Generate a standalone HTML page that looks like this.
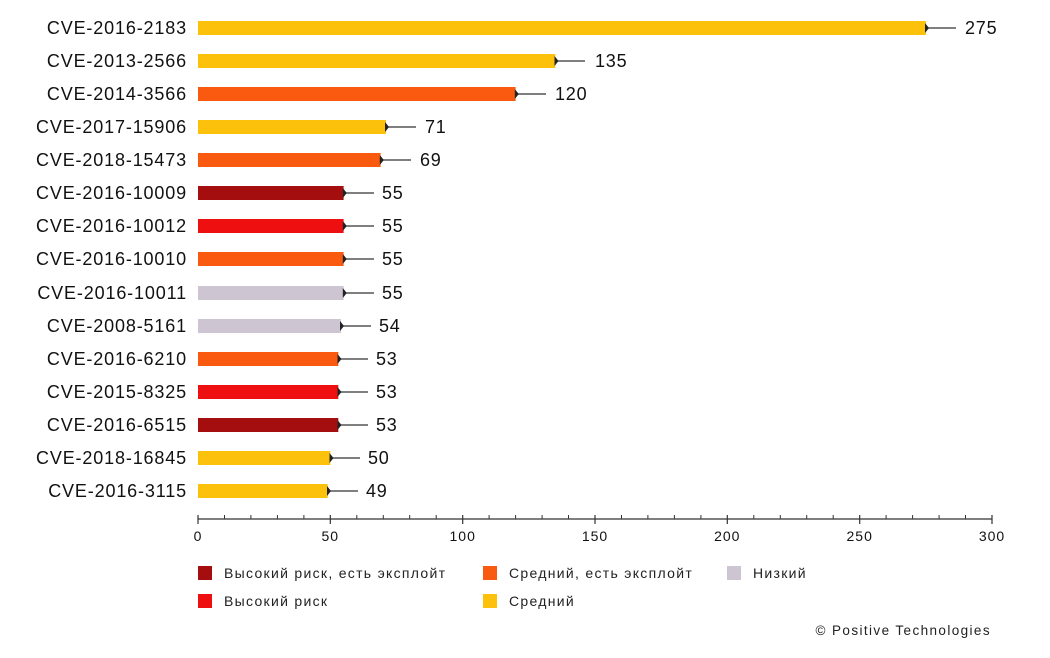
<!DOCTYPE html>
<html><head><meta charset="utf-8"><style>
body{margin:0;background:#fff;}
text{font-family:"Liberation Sans","DejaVu Sans",sans-serif;}
</style></head><body>
<svg width="1050" height="653" xmlns="http://www.w3.org/2000/svg">
<g stroke="#333" stroke-width="1.2">
<line x1="925.8" y1="28" x2="956" y2="28"/>
<line x1="555.3" y1="61" x2="585" y2="61"/>
<line x1="515.6" y1="94" x2="546" y2="94"/>
<line x1="385.9" y1="127" x2="416" y2="127"/>
<line x1="380.6" y1="160" x2="411" y2="160"/>
<line x1="343.6" y1="193" x2="374" y2="193"/>
<line x1="343.6" y1="226" x2="374" y2="226"/>
<line x1="343.6" y1="259" x2="374" y2="259"/>
<line x1="343.6" y1="293" x2="374" y2="293"/>
<line x1="340.9" y1="326" x2="371" y2="326"/>
<line x1="338.3" y1="359" x2="368" y2="359"/>
<line x1="338.3" y1="392" x2="368" y2="392"/>
<line x1="338.3" y1="425" x2="368" y2="425"/>
<line x1="330.3" y1="458" x2="360" y2="458"/>
<line x1="327.7" y1="491" x2="358" y2="491"/>
</g>
<rect x="198" y="21" width="727.8" height="14" fill="#FCC10A"/>
<rect x="198" y="54" width="357.3" height="14" fill="#FCC10A"/>
<rect x="198" y="87" width="317.6" height="14" fill="#FA5A0F"/>
<rect x="198" y="120" width="187.9" height="14" fill="#FCC10A"/>
<rect x="198" y="153" width="182.6" height="14" fill="#FA5A0F"/>
<rect x="198" y="186" width="145.6" height="14" fill="#A50E0E"/>
<rect x="198" y="219" width="145.6" height="14" fill="#EE1010"/>
<rect x="198" y="252" width="145.6" height="14" fill="#FA5A0F"/>
<rect x="198" y="286" width="145.6" height="14" fill="#CDC6D2"/>
<rect x="198" y="319" width="142.9" height="14" fill="#CDC6D2"/>
<rect x="198" y="352" width="140.3" height="14" fill="#FA5A0F"/>
<rect x="198" y="385" width="140.3" height="14" fill="#EE1010"/>
<rect x="198" y="418" width="140.3" height="14" fill="#A50E0E"/>
<rect x="198" y="451" width="132.3" height="14" fill="#FCC10A"/>
<rect x="198" y="484" width="129.7" height="14" fill="#FCC10A"/>
<g fill="#222">
<path d="M925 23L929 28L925 33Z"/>
<path d="M554.5 56L558.5 61L554.5 66Z"/>
<path d="M514.8 89L518.8 94L514.8 99Z"/>
<path d="M385 122L389 127L385 132Z"/>
<path d="M379.8 155L383.8 160L379.8 165Z"/>
<path d="M342.8 188L346.8 193L342.8 198Z"/>
<path d="M342.8 221L346.8 226L342.8 231Z"/>
<path d="M342.8 254L346.8 259L342.8 264Z"/>
<path d="M342.8 288L346.8 293L342.8 298Z"/>
<path d="M340 321L344 326L340 331Z"/>
<path d="M337.5 354L341.5 359L337.5 364Z"/>
<path d="M337.5 387L341.5 392L337.5 397Z"/>
<path d="M337.5 420L341.5 425L337.5 430Z"/>
<path d="M329.5 453L333.5 458L329.5 463Z"/>
<path d="M327 486L331 491L327 496Z"/>
</g>
<g font-size="18" fill="#111" letter-spacing="0.8">
<text x="965" y="34">275</text>
<text x="595" y="67">135</text>
<text x="555" y="100">120</text>
<text x="425" y="133">71</text>
<text x="420" y="166">69</text>
<text x="382" y="199">55</text>
<text x="382" y="232">55</text>
<text x="382" y="265">55</text>
<text x="382" y="299">55</text>
<text x="379" y="332">54</text>
<text x="376" y="365">53</text>
<text x="376" y="398">53</text>
<text x="376" y="431">53</text>
<text x="368" y="464">50</text>
<text x="366" y="497">49</text>
</g>
<g font-size="18" fill="#111" text-anchor="end" letter-spacing="0.85">
<text x="187" y="34">CVE-2016-2183</text>
<text x="187" y="67">CVE-2013-2566</text>
<text x="187" y="100">CVE-2014-3566</text>
<text x="187" y="133">CVE-2017-15906</text>
<text x="187" y="166">CVE-2018-15473</text>
<text x="187" y="199">CVE-2016-10009</text>
<text x="187" y="232">CVE-2016-10012</text>
<text x="187" y="265">CVE-2016-10010</text>
<text x="187" y="299">CVE-2016-10011</text>
<text x="187" y="332">CVE-2008-5161</text>
<text x="187" y="365">CVE-2016-6210</text>
<text x="187" y="398">CVE-2015-8325</text>
<text x="187" y="431">CVE-2016-6515</text>
<text x="187" y="464">CVE-2018-16845</text>
<text x="187" y="497">CVE-2016-3115</text>
</g>
<g stroke="#333" stroke-width="1.2">
<line x1="198" y1="519" x2="992" y2="519"/>
<path d="M198 515V524M330.3 515V524M462.7 515V524M595 515V524M727.3 515V524M859.7 515V524M992 515V524"/>
<path stroke-width="1" d="M224.5 515V519M250.9 515V519M277.4 515V519M303.9 515V519M356.8 515V519M383.3 515V519M409.7 515V519M436.2 515V519M489.1 515V519M515.6 515V519M542.1 515V519M568.5 515V519M621.5 515V519M647.9 515V519M674.4 515V519M700.9 515V519M753.8 515V519M780.3 515V519M806.7 515V519M833.2 515V519M886.1 515V519M912.6 515V519M939.1 515V519M965.5 515V519"/>
</g>
<g font-size="14" fill="#111" text-anchor="middle" letter-spacing="1">
<text x="198" y="541">0</text>
<text x="330.3" y="541">50</text>
<text x="462.7" y="541">100</text>
<text x="595" y="541">150</text>
<text x="727.3" y="541">200</text>
<text x="859.7" y="541">250</text>
<text x="992" y="541">300</text>
</g>
<rect x="198" y="566" width="14" height="14" fill="#A50E0E"/>
<rect x="198" y="594" width="14" height="14" fill="#EE1010"/>
<rect x="483" y="566" width="14" height="14" fill="#FA5A0F"/>
<rect x="483" y="594" width="14" height="14" fill="#FCC10A"/>
<rect x="727" y="566" width="14" height="14" fill="#CDC6D2"/>
<g font-size="14" fill="#222" letter-spacing="1.3">
<text x="224" y="578">Высокий риск, есть эксплойт</text>
<text x="224" y="606">Высокий риск</text>
<text x="509" y="578">Средний, есть эксплойт</text>
<text x="509" y="606">Средний</text>
<text x="753" y="578">Низкий</text>
</g>
<text x="991" y="635" font-size="13.5" fill="#222" text-anchor="end" letter-spacing="1.4">© Positive Technologies</text>
</svg>
</body></html>
